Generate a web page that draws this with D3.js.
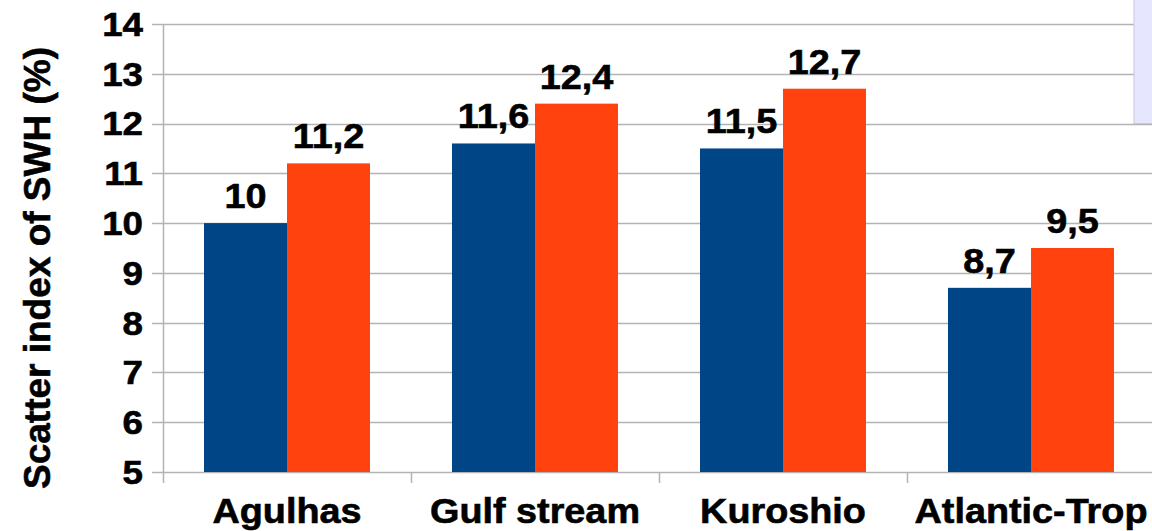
<!DOCTYPE html>
<html>
<head>
<meta charset="utf-8">
<script src="https://cdn.jsdelivr.net/npm/d3@7"></script>
<style>
  html, body { margin: 0; padding: 0; background: #fff; }
  svg { display: block; }
  text { font-family: "Liberation Sans", Arial, sans-serif; font-weight: bold; fill: #000; stroke: #000; stroke-width: 0.6px; }
</style>
</head>
<body>
<svg id="chart" width="1152" height="531"></svg>
<script>
// Scatter index of significant wave height per region, two runs
const categories = ["Agulhas", "Gulf stream", "Kuroshio", "Atlantic-Trop"];
const seriesNames = ["Run 1", "Run 2"];
const run1 = [10, 11.6, 11.5, 8.7];
const run2 = [11.2, 12.4, 12.7, 9.5];
const yTicks = [5, 6, 7, 8, 9, 10, 11, 12, 13, 14];
const colors = ["#004586", "#ff420e"];

const svg = d3.select("#chart");
const gridColor = "#b3b3b3";
const tickFont = 34;
const labelFont = 35;
const stretch = 1.08;

const plotLeft = 163, plotTop = 24, plotBottom = 472;
const step = 248;

const x0 = d3.scaleBand().domain(categories).range([plotLeft, plotLeft + step * categories.length]).padding(0);
const x1 = d3.scaleBand().domain(seriesNames).range([0, x0.bandwidth()]).paddingInner(0).paddingOuter(0.494);
const y = d3.scaleLinear().domain([5, 14]).range([plotBottom, plotTop]);

// horizontal gridlines
svg.append("g")
  .selectAll("line")
  .data(yTicks)
  .join("line")
  .attr("x1", plotLeft - 11).attr("x2", 1152)
  .attr("y1", d => Math.round(y(d)) + 0.5).attr("y2", d => Math.round(y(d)) + 0.5)
  .attr("stroke", gridColor).attr("stroke-width", 1.5);

// legend panel at the top right
svg.append("rect")
  .attr("x", 1134).attr("y", -2).attr("width", 30).attr("height", 125.5)
  .attr("fill", "#e6e6ff").attr("stroke", "#c8c8e0").attr("stroke-width", 1);

// y axis line
svg.append("line")
  .attr("x1", plotLeft + 0.5).attr("x2", plotLeft + 0.5)
  .attr("y1", y(14)).attr("y2", plotBottom + 11)
  .attr("stroke", gridColor).attr("stroke-width", 1.5);

// category separator ticks
svg.append("g")
  .selectAll("line")
  .data(categories.slice(1))
  .join("line")
  .attr("x1", d => x0(d) + 0.5).attr("x2", d => x0(d) + 0.5)
  .attr("y1", plotBottom).attr("y2", plotBottom + 11)
  .attr("stroke", gridColor).attr("stroke-width", 1.5);

// y tick labels
svg.append("g")
  .selectAll("text")
  .data(yTicks)
  .join("text")
  .attr("transform", d => `translate(143,${y(d)}) scale(${stretch},1)`)
  .attr("text-anchor", "end")
  .attr("dy", "0.35em")
  .attr("font-size", tickFont)
  .text(d => d);

// bars
const rows = categories.map((c, i) => ({ cat: c, values: [run1[i], run2[i]] }));
const groups = svg.append("g")
  .selectAll("g")
  .data(rows)
  .join("g")
  .attr("transform", d => `translate(${x0(d.cat)},0)`);

groups.selectAll("rect")
  .data(d => d.values.map((v, k) => ({ key: seriesNames[k], v, k })))
  .join("rect")
  .attr("x", d => x1(d.key))
  .attr("width", x1.bandwidth())
  .attr("y", d => y(d.v))
  .attr("height", d => y(5) - y(d.v))
  .attr("fill", d => colors[d.k]);

// value labels
groups.selectAll("text")
  .data(d => d.values.map((v, k) => ({ key: seriesNames[k], v, k })))
  .join("text")
  .attr("transform", d => `translate(${x1(d.key) + x1.bandwidth() / 2},${y(d.v) - 15}) scale(${stretch},1)`)
  .attr("text-anchor", "middle")
  .attr("font-size", labelFont)
  .text(d => String(d.v).replace(".", ","));

// category labels
svg.append("g")
  .selectAll("text")
  .data(categories)
  .join("text")
  .attr("transform", d => `translate(${x0(d) + x0.bandwidth() / 2},523) scale(${stretch},1)`)
  .attr("text-anchor", "middle")
  .attr("font-size", labelFont)
  .text(d => d);

// y axis title
svg.append("text")
  .attr("transform", `translate(50,268) rotate(-90)`)
  .attr("text-anchor", "middle")
  .attr("font-size", 37)
  .text("Scatter index of SWH (%)");
</script>
</body>
</html>
